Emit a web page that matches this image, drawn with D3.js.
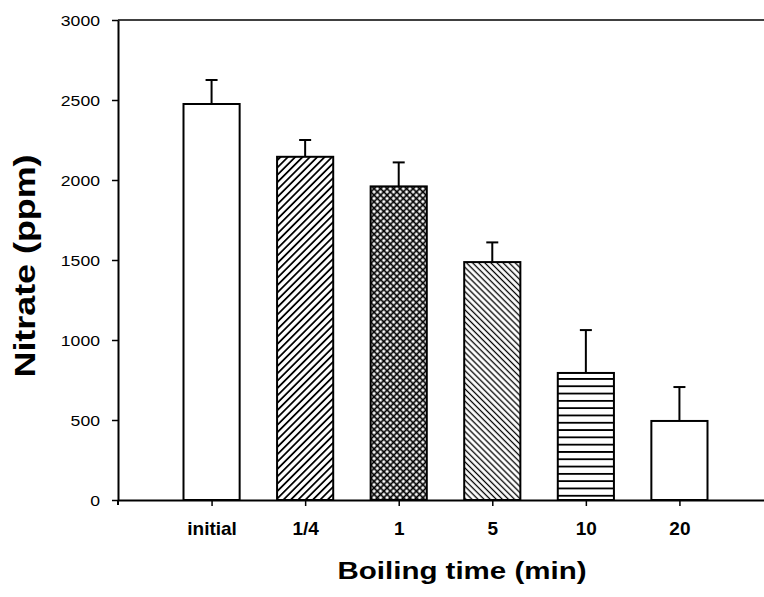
<!DOCTYPE html>
<html>
<head>
<meta charset="utf-8">
<script src="https://cdn.jsdelivr.net/npm/d3@7"></script>
<style>
  html, body { margin: 0; padding: 0; background: #fff; }
  svg { display: block; }
  text { font-family: "Liberation Sans", Arial, sans-serif; fill: #000; }
</style>
</head>
<body>
<svg id="chart" width="764" height="597"></svg>
<script>
// Nitrate content after boiling for various times (mean with upper SD)
const categories = ["initial", "1/4", "1", "5", "10", "20"];
const nitrate = [2475, 2145, 1960, 1487, 794, 494];
const errorUp = [150, 105, 150, 123, 268, 212];
const yTicks = [0, 500, 1000, 1500, 2000, 2500, 3000];

const svg = d3.select("#chart");

// Hatch patterns for the bars
const defs = svg.append("defs");

function linePattern(id, period, angle, strokeW) {
  const p = defs.append("pattern")
    .attr("id", id)
    .attr("patternUnits", "userSpaceOnUse")
    .attr("width", period).attr("height", period)
    .attr("patternTransform", `rotate(${angle})`);
  p.append("rect").attr("width", period).attr("height", period).attr("fill", "#fff");
  p.append("line")
    .attr("x1", 0).attr("y1", period / 2)
    .attr("x2", period).attr("y2", period / 2)
    .attr("stroke", "#000").attr("stroke-width", strokeW);
  return p;
}
linePattern("hatchUp", 5.2, -45, 1.8);
linePattern("hatchDown", 4.3, 45, 1.3);
const hz = linePattern("hatchHoriz", 7.3, 0, 1.8);
hz.attr("y", 3);

const cross = defs.append("pattern")
  .attr("id", "crossHatch")
  .attr("patternUnits", "userSpaceOnUse")
  .attr("width", 4.6).attr("height", 4.6)
  .attr("patternTransform", "rotate(45)");
cross.append("rect").attr("width", 4.6).attr("height", 4.6).attr("fill", "#fff");
cross.append("line").attr("x1", 0).attr("y1", 2.3).attr("x2", 4.6).attr("y2", 2.3)
  .attr("stroke", "#000").attr("stroke-width", 1.7);
cross.append("line").attr("x1", 2.3).attr("y1", 0).attr("x2", 2.3).attr("y2", 4.6)
  .attr("stroke", "#000").attr("stroke-width", 1.7);

const barFill = ["#fff", "url(#hatchUp)", "url(#crossHatch)", "url(#hatchDown)", "url(#hatchHoriz)", "#fff"];

// Scales
const x = d3.scaleLinear().domain([0, 7]).range([118, 773]);
const y = d3.scaleLinear().domain([0, 3000]).range([500, 20]);
const halfBar = 0.3;

// Top frame line
svg.append("line")
  .attr("x1", x(0)).attr("x2", 764)
  .attr("y1", y(3000)).attr("y2", y(3000))
  .attr("stroke", "#000").attr("stroke-width", 1.5);

// Bars
const bars = svg.append("g");
bars.selectAll("rect")
  .data(nitrate)
  .join("rect")
  .attr("x", (d, i) => x(i + 1 - halfBar))
  .attr("width", (d, i) => x(i + 1 + halfBar) - x(i + 1 - halfBar))
  .attr("y", d => y(d))
  .attr("height", d => y(0) - y(d))
  .attr("fill", (d, i) => barFill[i])
  .attr("stroke", "#000")
  .attr("stroke-width", 2);

// Upper error bars
const err = svg.append("g").attr("stroke", "#000").attr("stroke-width", 2);
nitrate.forEach((v, i) => {
  const cx = x(i + 1);
  err.append("line").attr("x1", cx).attr("x2", cx)
    .attr("y1", y(v)).attr("y2", y(v + errorUp[i]));
  err.append("line").attr("x1", cx - 6).attr("x2", cx + 6)
    .attr("y1", y(v + errorUp[i])).attr("y2", y(v + errorUp[i]));
});

// Y axis
const yAxis = svg.append("g")
  .attr("transform", `translate(${x(0)},0)`)
  .call(d3.axisLeft(y).tickValues(yTicks).tickFormat(d3.format("d"))
    .tickSize(6).tickSizeOuter(0).tickPadding(12));
yAxis.select(".domain").attr("stroke-width", 2);
yAxis.selectAll(".tick line").attr("stroke-width", 1.5);
yAxis.selectAll(".tick text")
  .style("font-size", "15px")
  .attr("dy", "0.36em")
  .attr("textLength", d => String(d).length * 9.8)
  .attr("lengthAdjust", "spacingAndGlyphs");

// Short extension of the y axis below the baseline
svg.append("line")
  .attr("x1", x(0)).attr("x2", x(0))
  .attr("y1", y(0)).attr("y2", y(0) + 5)
  .attr("stroke", "#000").attr("stroke-width", 2);

// X axis
const xAxis = svg.append("g")
  .attr("transform", `translate(0,${y(0)})`)
  .call(d3.axisBottom(x)
    .tickValues([1, 2, 3, 4, 5, 6])
    .tickFormat(i => categories[i - 1])
    .tickSize(6).tickSizeOuter(0));
xAxis.select(".domain").attr("stroke-width", 2);
xAxis.selectAll(".tick line").attr("stroke-width", 1.5);
xAxis.selectAll(".tick text")
  .attr("y", 35).attr("dy", 0)
  .style("font-size", "19px")
  .style("font-weight", "bold");

// Axis titles
svg.append("text")
  .attr("x", 462).attr("y", 579)
  .attr("text-anchor", "middle")
  .attr("textLength", 249).attr("lengthAdjust", "spacingAndGlyphs")
  .style("font-size", "23px").style("font-weight", "bold")
  .text("Boiling time (min)");

svg.append("text")
  .attr("transform", "translate(35,266) rotate(-90)")
  .attr("text-anchor", "middle")
  .attr("textLength", 223).attr("lengthAdjust", "spacingAndGlyphs")
  .style("font-size", "29px").style("font-weight", "bold")
  .text("Nitrate (ppm)");
</script>
</body>
</html>
